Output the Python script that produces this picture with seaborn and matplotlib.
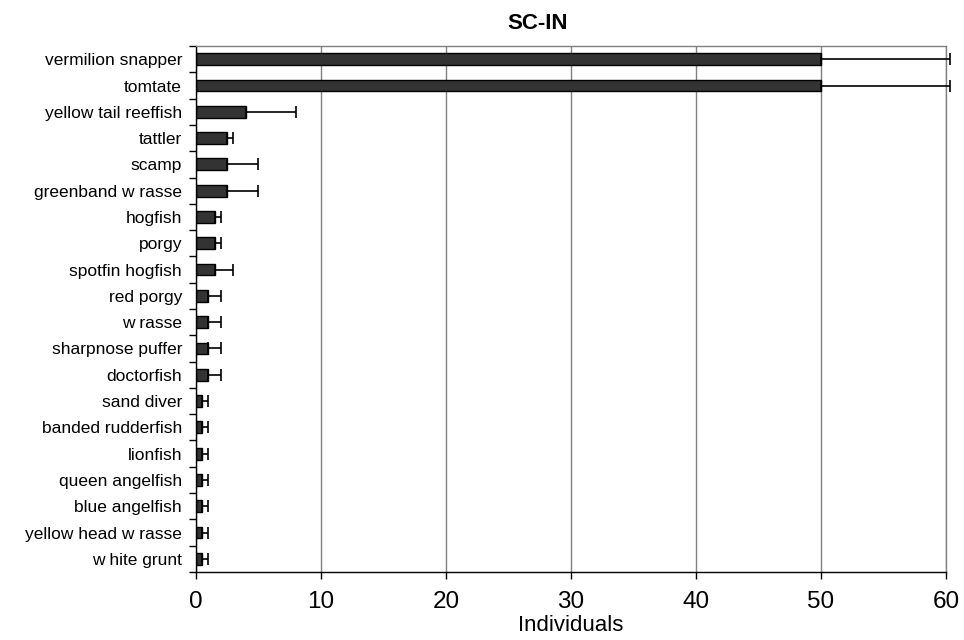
import pandas as pd
import numpy as np
import matplotlib
matplotlib.use('Agg')
import matplotlib.pyplot as plt
import seaborn as sns

species = ['vermilion snapper', 'tomtate', 'yellow tail reeffish', 'tattler', 'scamp',
           'greenband w rasse', 'hogfish', 'porgy', 'spotfin hogfish', 'red porgy',
           'w rasse', 'sharpnose puffer', 'doctorfish', 'sand diver', 'banded rudderfish',
           'lionfish', 'queen angelfish', 'blue angelfish', 'yellow head w rasse', 'w hite grunt']
individuals = [50, 50, 4, 2.5, 2.5, 2.5, 1.5, 1.5, 1.5, 1, 1, 1, 1,
               0.5, 0.5, 0.5, 0.5, 0.5, 0.5, 0.5]
error = [10.3, 10.3, 4, 0.5, 2.5, 2.5, 0.5, 0.5, 1.5, 1, 1, 1, 1,
         0.5, 0.5, 0.5, 0.5, 0.5, 0.5, 0.5]
x_ticks = [0, 10, 20, 30, 40, 50, 60]

df = pd.DataFrame({'Species': species, 'Individuals': individuals, 'Error': error})

sns.set_style('white')
plt.rcParams['font.family'] = ['Liberation Sans', 'DejaVu Sans']
for key in ['text.color', 'axes.labelcolor', 'xtick.color', 'ytick.color']:
    plt.rcParams[key] = 'black'

fig = plt.figure(figsize=(9.64, 6.4), dpi=100)
ax = fig.add_axes([0.2033, 0.1063, 0.778, 0.8217])

sns.barplot(data=df, x='Individuals', y='Species', orient='h', color='#333333',
            saturation=1, edgecolor='black', linewidth=1, width=0.45, ax=ax)

# plus-only error bars, like the spreadsheet original
ypos = np.arange(len(df))
ax.errorbar(df['Individuals'], ypos, xerr=[np.zeros(len(df)), df['Error']],
            fmt='none', ecolor='black', elinewidth=1.2, capsize=4, capthick=1.2,
            clip_on=False, zorder=3)

ax.set_xlim(0, 60)
ax.set_ylim(len(df) - 0.5, -0.5)
ax.set_xticks(x_ticks)
ax.tick_params(axis='x', labelsize=17.5, length=5, width=1, direction='out',
               bottom=True, color='black', pad=9)
ax.tick_params(axis='y', which='major', length=0, labelsize=12.5, pad=10)
ax.set_yticks(np.arange(len(df) + 1) - 0.5, minor=True)
ax.tick_params(axis='y', which='minor', length=5, width=1, direction='out', left=True, color='black')

ax.xaxis.grid(True, color='#808080', linewidth=1)
ax.set_axisbelow(True)
for side in ['top', 'right']:
    ax.spines[side].set_color('#808080')
for side in ['left', 'bottom']:
    ax.spines[side].set_color('black')
for s in ax.spines.values():
    s.set_linewidth(1)

ax.set_ylabel('')
ax.set_xlabel('Individuals', fontsize=16, labelpad=1)
ax.set_title('SC-IN', fontsize=16, fontweight='bold', pad=12, x=0.455)

fig.savefig('out.png', dpi=100)
